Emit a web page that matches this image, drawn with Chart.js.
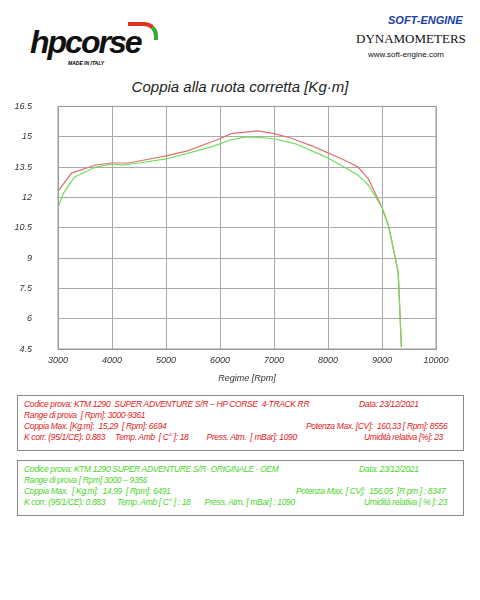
<!DOCTYPE html>
<html><head><meta charset="utf-8">
<script src="https://cdn.jsdelivr.net/npm/chart.js@4"></script>
<style>
body{margin:0;width:480px;height:600px;background:#fff;position:relative;font-family:"Liberation Sans",Arial,sans-serif;overflow:hidden}
.abs{position:absolute}
.box{position:absolute;left:17px;width:447px;border:1.5px solid #888;font-family:"Liberation Sans",sans-serif;font-style:italic;font-size:8.5px;letter-spacing:-0.35px;line-height:11px;padding:3px 6px;box-sizing:border-box;height:56px}
.row{position:relative;height:11px;white-space:pre}
.row span{position:absolute}
</style></head><body>
<div class="abs" style="left:30px;top:24px;font-size:32px;font-style:italic;letter-spacing:-2px;color:#111;font-weight:bold">hpcorse</div>
<div class="abs" style="left:128px;top:22px;width:26px;height:14px;border-top:4px solid #d32;border-right:4px solid #3a3;border-radius:0 14px 0 0"></div>
<div class="abs" style="left:68px;top:60px;font-size:5px;font-style:italic;font-weight:bold">MADE IN ITALY</div>
<div class="abs" style="left:388px;top:14px;font-size:11px;font-style:italic;font-weight:bold;color:#1a3fa8">SOFT-ENGINE</div>
<div class="abs" style="left:356px;top:31px;font-size:13px;font-family:'Liberation Serif',serif;color:#111">DYNAMOMETERS</div>
<div class="abs" style="left:368px;top:50px;font-size:8px;color:#111">www.soft-engine.com</div>
<div class="abs" style="left:0;width:480px;top:78px;text-align:center;font-size:15px;font-style:italic;color:#222">Coppia alla ruota corretta [Kg·m]</div>
<div class="abs" style="left:0;top:75px;width:480px;height:313px"><canvas id="c"></canvas></div>
<div class="box" style="top:395px;color:#e21a1a">
<div class="row"><span style="left:0">Codice prova: KTM 1290  SUPER ADVENTURE S/R – HP CORSE  4-TRACK RR</span><span style="left:335px">Data: 23/12/2021</span></div>
<div class="row"><span style="left:0">Range di prova  [ Rpm]: 3000-9361</span></div>
<div class="row"><span style="left:0">Coppia Max. [Kg.m]:  15,29  [ Rpm]: 6694</span><span style="left:282px">Potenza Max. [CV]:  160,33 [ Rpm]: 8556</span></div>
<div class="row"><span style="left:0">K corr. (95/1/CE): 0.883     Temp. Amb  [ C° ]: 18         Press. Atm.  [ mBar]: 1090</span><span style="left:340px">Umidità relativa [%]: 23</span></div>
</div>
<div class="box" style="top:460px;color:#4bd62a">
<div class="row"><span style="left:0">Codice prova: KTM 1290 SUPER ADVENTURE S/R- ORIGINALE - OEM</span><span style="left:335px">Data: 23/12/2021</span></div>
<div class="row"><span style="left:0">Range di prova [ Rpm] 3000 – 9356</span></div>
<div class="row"><span style="left:0">Coppia Max.  [ Kg.m]:  14,99  [ Rpm]: 6491</span><span style="left:272px">Potenza Max. [ CV]:  156,05  [R pm ] : 8347</span></div>
<div class="row"><span style="left:0">K corr. (95/1/CE): 0.883      Temp. Amb [ C° ] : 18       Press. Atm. [ mBar] : 1090</span><span style="left:340px">Umidità relativa [ % ]: 23</span></div>
</div>
<script>
const redRpm=[3000,3250,3700,4000,4300,4600,5000,5400,5800,6000,6200,6694,7000,7300,7700,8000,8300,8556,8750,9000,9120,9300,9361];
const redTorque=[12.3,13.2,13.6,13.7,13.7,13.85,14.05,14.3,14.7,14.9,15.15,15.29,15.15,14.95,14.55,14.2,13.85,13.5,12.9,11.5,10.6,8.3,4.6];
const greenRpm=[3000,3100,3300,3700,4000,4200,4500,5000,5500,5900,6200,6491,6800,7000,7400,7700,8000,8300,8556,8750,9000,9120,9300,9356];
const greenTorque=[11.5,12.2,13.0,13.5,13.65,13.6,13.7,13.9,14.25,14.55,14.85,14.99,14.95,14.9,14.65,14.3,13.95,13.5,13.1,12.6,11.5,10.6,8.3,4.6];
const xTicks=[3000,4000,5000,6000,7000,8000,9000,10000];
const yTicks=[4.5,6,7.5,9,10.5,12,13.5,15,16.5];
const pts=(xs,ys)=>xs.map((x,i)=>({x,y:ys[i]}));
new Chart(document.getElementById('c'),{type:'line',
data:{datasets:[
{data:pts(greenRpm,greenTorque),borderColor:'#6fe05a',borderWidth:1.2,pointRadius:0,tension:0},
{data:pts(redRpm,redTorque),borderColor:'#e07070',borderWidth:1.2,pointRadius:0,tension:0}]},
options:{responsive:true,maintainAspectRatio:false,animation:false,
layout:{padding:{top:7,right:44}},
plugins:{legend:{display:false},tooltip:{enabled:false}},
scales:{
x:{type:'linear',min:3000,max:10000,afterBuildTicks:a=>{a.ticks=xTicks.map(v=>({value:v}))},
 afterFit:s=>{s.height=39},
 grid:{color:'#aaa',lineWidth:1,drawTicks:false},border:{color:'#999'},
 ticks:{padding:6,color:'#333',font:{size:9,style:'italic'},callback:v=>String(v)},
 title:{display:true,text:'Regime [Rpm]',color:'#333',padding:{top:2},font:{size:9,style:'italic'}}},
y:{min:4.5,max:16.5,afterBuildTicks:a=>{a.ticks=yTicks.map(v=>({value:v}))},
 afterFit:s=>{s.width=58},
 grid:{color:'#aaa',lineWidth:1,drawTicks:false},border:{color:'#999'},
 ticks:{padding:26,color:'#333',font:{size:9,style:'italic'},callback:v=>String(v)}}}},
plugins:[{id:'rb',afterDraw(c){const a=c.chartArea,x=c.ctx;x.save();x.strokeStyle='#999';x.lineWidth=1;x.strokeRect(a.left,a.top,a.width,a.height);x.restore();}}]
});
</script>
</body></html>
